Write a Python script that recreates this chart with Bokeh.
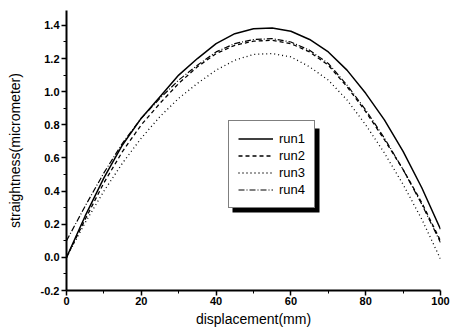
from bokeh.plotting import figure
from bokeh.models import Range1d, FixedTicker, Legend, LegendItem, BoxAnnotation, NumeralTickFormatter
from bokeh.embed import file_html
from bokeh.resources import INLINE

displacement = [0, 5, 10, 15, 20, 25, 30, 35, 40, 45, 50, 55, 60, 65, 70, 75, 80, 85, 90, 95, 100]
run1 = [0.00, 0.25, 0.48, 0.68, 0.84, 0.97, 1.10, 1.20, 1.29, 1.35, 1.38, 1.385, 1.365, 1.315, 1.24, 1.13, 0.99, 0.83, 0.64, 0.42, 0.17]
run2 = [0.00, 0.23, 0.45, 0.64, 0.80, 0.93, 1.05, 1.15, 1.23, 1.28, 1.305, 1.31, 1.29, 1.24, 1.16, 1.03, 0.88, 0.71, 0.53, 0.33, 0.10]
run3 = [0.00, 0.21, 0.40, 0.57, 0.72, 0.85, 0.96, 1.05, 1.13, 1.19, 1.225, 1.23, 1.21, 1.15, 1.07, 0.95, 0.80, 0.63, 0.44, 0.23, -0.01]
run4 = [0.10, 0.31, 0.51, 0.69, 0.84, 0.96, 1.07, 1.16, 1.24, 1.29, 1.315, 1.32, 1.30, 1.25, 1.17, 1.04, 0.89, 0.72, 0.53, 0.32, 0.09]
series_names = ["run1", "run2", "run3", "run4"]
x_ticks = [0, 20, 40, 60, 80, 100]
x_minor = [10, 30, 50, 70, 90]
y_ticks = [-0.2, 0.0, 0.2, 0.4, 0.6, 0.8, 1.0, 1.2, 1.4]
y_minor = [-0.1, 0.1, 0.3, 0.5, 0.7, 0.9, 1.1, 1.3]
x_title = "displacement(mm)"
y_title = "straightness(micrometer)"

W, H = 457, 330
BL, BR, BT, BB = 66, 17, 10, 40
Y0, Y1 = -0.2, 1.49
p = figure(width=W, height=H, output_backend="svg", toolbar_location=None,
           x_range=Range1d(0, 100), y_range=Range1d(Y0, Y1),
           min_border_left=BL, min_border_right=BR, min_border_top=BT, min_border_bottom=BB)
p.outline_line_color = None
p.grid.visible = False
p.background_fill_color = "white"
p.border_fill_color = "white"

for ax in (p.xaxis[0], p.yaxis[0]):
    ax.axis_line_width = 2
    ax.axis_line_color = "black"
    ax.major_tick_line_color = "black"
    ax.minor_tick_line_color = "black"
    ax.major_tick_line_width = 1.5
    ax.minor_tick_line_width = 1
    ax.major_tick_out = 5
    ax.major_tick_in = 0
    ax.minor_tick_out = 3
    ax.minor_tick_in = 0
    ax.major_label_text_font = "Liberation Sans"
    ax.major_label_text_font_style = "bold"
    ax.major_label_text_font_size = "11px"
    ax.major_label_text_color = "black"
    ax.axis_label_text_font = "Liberation Sans"
    ax.axis_label_text_font_style = "normal"
    ax.axis_label_text_font_size = "14px"
    ax.axis_label_text_color = "black"

p.xaxis.ticker = FixedTicker(ticks=x_ticks, minor_ticks=x_minor)
p.yaxis.ticker = FixedTicker(ticks=y_ticks, minor_ticks=y_minor)
p.yaxis.formatter = NumeralTickFormatter(format="0.0")
p.xaxis.axis_label = x_title
p.yaxis.axis_label = y_title
p.xaxis.major_label_standoff = 1
p.xaxis.axis_label_standoff = 3
p.yaxis.major_label_standoff = 2
p.yaxis.axis_label_standoff = 15

fw = W - BL - BR
fh = H - BT - BB
sx = 100 / fw
sy = (Y1 - Y0) / fh

r1 = p.line(displacement, run1, line_color="black", line_width=1.5)
r2 = p.line(displacement, run2, line_color="black", line_width=1.3, line_dash="4 3")
r3 = p.line(displacement, run3, line_color="black", line_width=1.3, line_dash="1 3")
r4 = p.line(displacement, run4, line_color="black", line_width=1.2, line_dash="6 2 1 2")

# legend placement (frame pixels)
lx, ly, lw, lh = 162, 82, 87, 84
shadow = BoxAnnotation(left=(lx + 4) * sx, right=(lx + lw + 4) * sx,
                       bottom=Y0 + (ly - 4) * sy, top=Y0 + (ly + lh - 4) * sy,
                       fill_color="black", fill_alpha=1.0, line_color=None)
p.add_layout(shadow)

legend = Legend(items=[LegendItem(label=n, renderers=[r]) for n, r in zip(series_names, [r1, r2, r3, r4])],
                location=(lx, ly), padding=9, spacing=0, margin=0,
                glyph_width=35, glyph_height=17, label_height=17, label_width=24,
                label_standoff=6, label_text_font="Liberation Sans",
                label_text_font_size="13px", label_text_color="black",
                border_line_color="black", border_line_width=1,
                background_fill_color="white", background_fill_alpha=1.0)
p.add_layout(legend, "center")

open("out.html", "w").write(file_html(p, INLINE))
